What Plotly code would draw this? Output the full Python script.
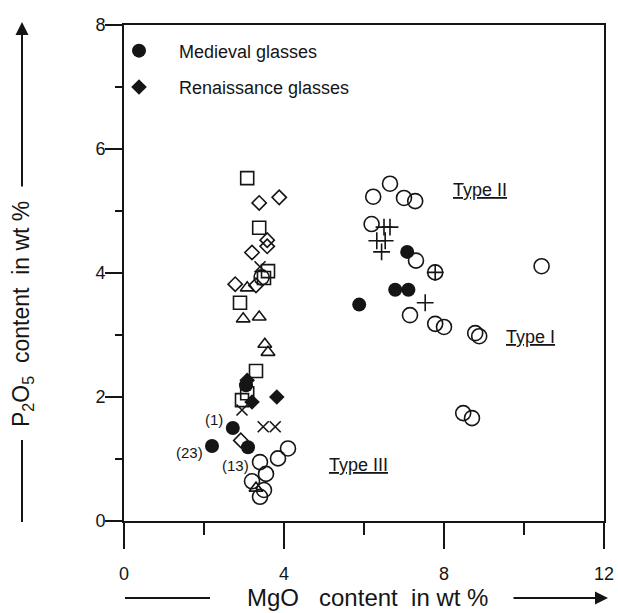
import plotly.graph_objects as go

# ---- data (MgO wt %, P2O5 wt %) ----
medieval_x = [7.08, 6.78, 7.11, 5.88, 3.05, 2.72, 3.10, 2.20]
medieval_y = [4.34, 3.73, 3.73, 3.49, 2.19, 1.50, 1.19, 1.21]

renaissance_x = [3.08, 3.20, 3.82]
renaissance_y = [2.27, 1.92, 2.00]

open_circle_x = [6.23, 6.65, 7.00, 7.28, 6.19, 7.30, 7.78, 10.44, 7.15, 7.78, 8.00, 8.78, 8.88, 8.48, 8.70,
                 3.44, 4.10, 3.85, 3.40, 3.55, 3.20, 3.50, 3.40]
open_circle_y = [5.23, 5.44, 5.21, 5.16, 4.79, 4.20, 4.01, 4.11, 3.32, 3.18, 3.13, 3.03, 2.98, 1.74, 1.66,
                 3.93, 1.17, 1.01, 0.95, 0.76, 0.64, 0.50, 0.39]

open_square_x = [3.08, 3.38, 3.60, 3.50, 2.90, 3.30, 3.08, 2.95]
open_square_y = [5.53, 4.73, 4.03, 3.92, 3.52, 2.42, 2.06, 1.95]

open_diamond_x = [3.38, 3.88, 3.58, 3.58, 3.20, 2.78, 3.30, 2.92]
open_diamond_y = [5.13, 5.22, 4.53, 4.43, 4.33, 3.82, 3.80, 1.30]

open_triangle_x = [3.08, 2.98, 3.38, 3.52, 3.60, 3.30]
open_triangle_y = [3.76, 3.26, 3.29, 2.85, 2.72, 0.53]

cross_x = [3.40, 2.95, 3.48, 3.78]
cross_y = [4.10, 1.79, 1.52, 1.52]

plus_x = [6.50, 6.65, 6.32, 6.53, 6.44, 7.78, 7.53]
plus_y = [4.74, 4.74, 4.52, 4.52, 4.34, 4.01, 3.52]

type_labels = ["<u>Type II</u>", "<u>Type I</u>", "<u>Type III</u>"]
type_x = [8.9, 10.15, 5.85]
type_y = [5.34, 2.97, 0.90]

sample_labels = ["(1)", "(23)", "(13)"]
sample_x = [2.26, 1.63, 2.78]
sample_y = [1.63, 1.11, 0.90]

x_ticks = [0, 4, 8, 12]
y_ticks = [0, 2, 4, 6, 8]

INK = "#151515"
FONT = "Arial, 'Liberation Sans', sans-serif"
NB = "\u00a0"

fig = go.Figure()

def open_trace(x, y, symbol, size):
    fig.add_trace(go.Scatter(
        x=x, y=y, mode="markers", showlegend=False, hoverinfo="skip",
        marker=dict(symbol=symbol, size=size, color=INK,
                    line=dict(color=INK, width=1.6))))

open_trace(open_circle_x, open_circle_y, "circle-open", 15)
open_trace(open_square_x, open_square_y, "square-open", 13)
open_trace(open_diamond_x, open_diamond_y, "diamond-open", 11)
open_trace(open_triangle_x, open_triangle_y, "triangle-up-open", 12)
open_trace(cross_x, cross_y, "x-thin", 11)
open_trace(plus_x, plus_y, "cross-thin", 12)

fig.add_trace(go.Scatter(
    x=medieval_x, y=medieval_y, mode="markers", name=NB * 4 + "Medieval glasses",
    legendgroup="a", hoverinfo="skip",
    marker=dict(symbol="circle", size=14, color=INK)))
fig.add_trace(go.Scatter(
    x=renaissance_x, y=renaissance_y, mode="markers", name=NB * 4 + "Renaissance glasses",
    legendgroup="b", hoverinfo="skip",
    marker=dict(symbol="diamond", size=12, color=INK)))

for t, x, y in zip(type_labels, type_x, type_y):
    fig.add_annotation(x=x, y=y, text=t, showarrow=False,
                       font=dict(size=18, color=INK, family=FONT))
for t, x, y in zip(sample_labels, sample_x, sample_y):
    fig.add_annotation(x=x, y=y, text=t, showarrow=False,
                       font=dict(size=15, color=INK, family=FONT))

# axis titles with arrow lines (positioned in paper coordinates)
L, T, PW, PH = 124, 25, 480, 496
def px(xp):
    return (xp - L) / PW
def py(yp):
    return (T + PH - yp) / PH

fig.add_annotation(xref="paper", yref="paper", x=px(367), y=py(597),
                   xanchor="center", yanchor="middle",
                   text="MgO" + NB * 3 + "content" + NB * 2 + "in wt %", showarrow=False,
                   font=dict(size=24, color=INK, family=FONT))
fig.add_annotation(xref="paper", yref="paper", x=px(22), y=py(314), textangle=-90,
                   xanchor="center", yanchor="middle",
                   text="P<sub>2</sub>O<sub>5</sub>" + NB * 2 + "content" + NB * 2 + "in wt %",
                   showarrow=False, font=dict(size=23, color=INK, family=FONT))

fig.add_shape(type="line", xref="paper", yref="paper",
              x0=px(125), x1=px(210), y0=py(598), y1=py(598),
              line=dict(color=INK, width=2))
fig.add_annotation(xref="paper", yref="paper", x=px(608), y=py(598), ax=-96, ay=0,
                   text="", showarrow=True, arrowhead=2, arrowsize=1.3, arrowwidth=2,
                   arrowcolor=INK)
fig.add_shape(type="line", xref="paper", yref="paper",
              x0=px(22), x1=px(22), y0=py(440), y1=py(522),
              line=dict(color=INK, width=2))
fig.add_annotation(xref="paper", yref="paper", x=px(22), y=py(22), ax=0, ay=166,
                   text="", showarrow=True, arrowhead=2, arrowsize=1.3, arrowwidth=2,
                   arrowcolor=INK)

axis_common = dict(showgrid=False, zeroline=False, showline=True, linecolor=INK,
                   linewidth=2, mirror=True, ticks="outside", tickcolor=INK,
                   tickwidth=2, automargin=False,
                   tickfont=dict(size=18, color=INK, family=FONT))

fig.update_xaxes(range=[0, 12], tickvals=x_ticks, ticklen=26, ticklabelstandoff=9,
                 minor=dict(dtick=2, ticklen=12, tickcolor=INK, tickwidth=2, ticks="outside"),
                 **axis_common)
fig.update_yaxes(range=[0, 8], tickvals=y_ticks, ticklen=17, ticklabelstandoff=-4,
                 minor=dict(dtick=1, ticklen=7, tickcolor=INK, tickwidth=2, ticks="outside"),
                 **axis_common)

fig.update_layout(
    width=618, height=613,
    margin=dict(l=L, r=618 - L - PW, t=T, b=613 - T - PH, autoexpand=False),
    paper_bgcolor="white", plot_bgcolor="white",
    font=dict(family=FONT, color=INK),
    showlegend=True,
    legend=dict(x=0, y=0.985, xanchor="left", yanchor="top", indentation=-5,
                bgcolor="rgba(0,0,0,0)", font=dict(size=18, color=INK, family=FONT),
                tracegroupgap=10, itemsizing="trace"),
)

fig.write_html("out.html")
